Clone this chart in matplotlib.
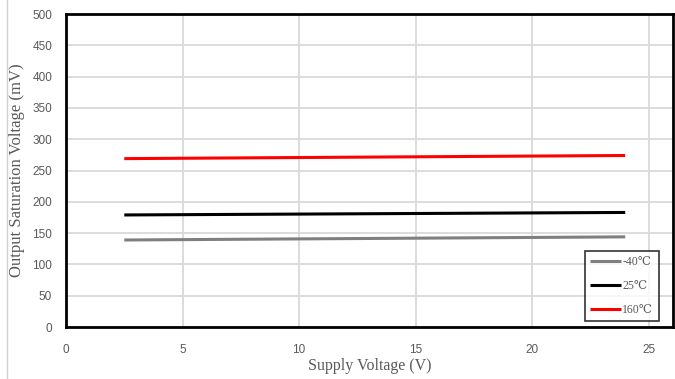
import matplotlib
matplotlib.use("Agg")
import matplotlib.pyplot as plt

# Supply voltage sweep endpoints (V) and output saturation voltage (mV)
supply_v = [2.5, 24.0]
vsat_m40 = [139, 144]
vsat_25 = [179, 183]
vsat_160 = [269, 274]

series_labels = ["-40℃", "25℃", "160℃"]
series_colors = ["#7f7f7f", "#000000", "#ff0000"]

x_ticks = [0, 5, 10, 15, 20, 25]
y_ticks = list(range(0, 501, 50))

fig = plt.figure(figsize=(6.75, 3.79), dpi=100)
ax = fig.add_axes([0.0978, 0.1372, 0.8992, 0.8258])

for y, lab, col in zip([vsat_m40, vsat_25, vsat_160], series_labels, series_colors):
    ax.plot(supply_v, y, color=col, lw=2.2, label=lab, solid_capstyle="butt")

ax.set_xlim(0, 26.05)
ax.set_ylim(0, 500)
ax.set_xticks(x_ticks)
ax.set_yticks(y_ticks)
ax.grid(True, color="#d9d9d9", lw=1.3)
ax.set_axisbelow(True)

for s in ax.spines.values():
    s.set_linewidth(2.0)
    s.set_color("black")

ax.tick_params(length=0, pad=10, labelsize=8.5, labelcolor="#595959")
ax.tick_params(axis="x", pad=12)
for t in ax.get_xticklabels() + ax.get_yticklabels():
    t.set_fontfamily("Liberation Sans")

serif = ["Liberation Serif", "DejaVu Serif"]
ax.set_xlabel("Supply Voltage (V)", family=serif, fontsize=11.5, color="#595959", labelpad=2)
ax.set_ylabel("Output Saturation Voltage (mV)", family=serif, fontsize=12, color="#595959", labelpad=5)

leg = ax.legend(loc="lower right", bbox_to_anchor=(0.982, 0.008), frameon=True, fancybox=False,
                handlelength=2.6, handletextpad=0.1, labelspacing=1.0, borderpad=0.45,
                borderaxespad=0.3, prop={"family": serif, "size": 8.5})
leg.get_frame().set_edgecolor("black")
leg.get_frame().set_linewidth(1.2)
for t in leg.get_texts():
    t.set_color("#595959")

# thin border line on the left of the figure
fig.add_artist(plt.Line2D([0.0104, 0.0104], [0.0, 1.0], color="#d0d0d0", lw=1.0,
                          transform=fig.transFigure))

fig.savefig("out.png", dpi=100)
